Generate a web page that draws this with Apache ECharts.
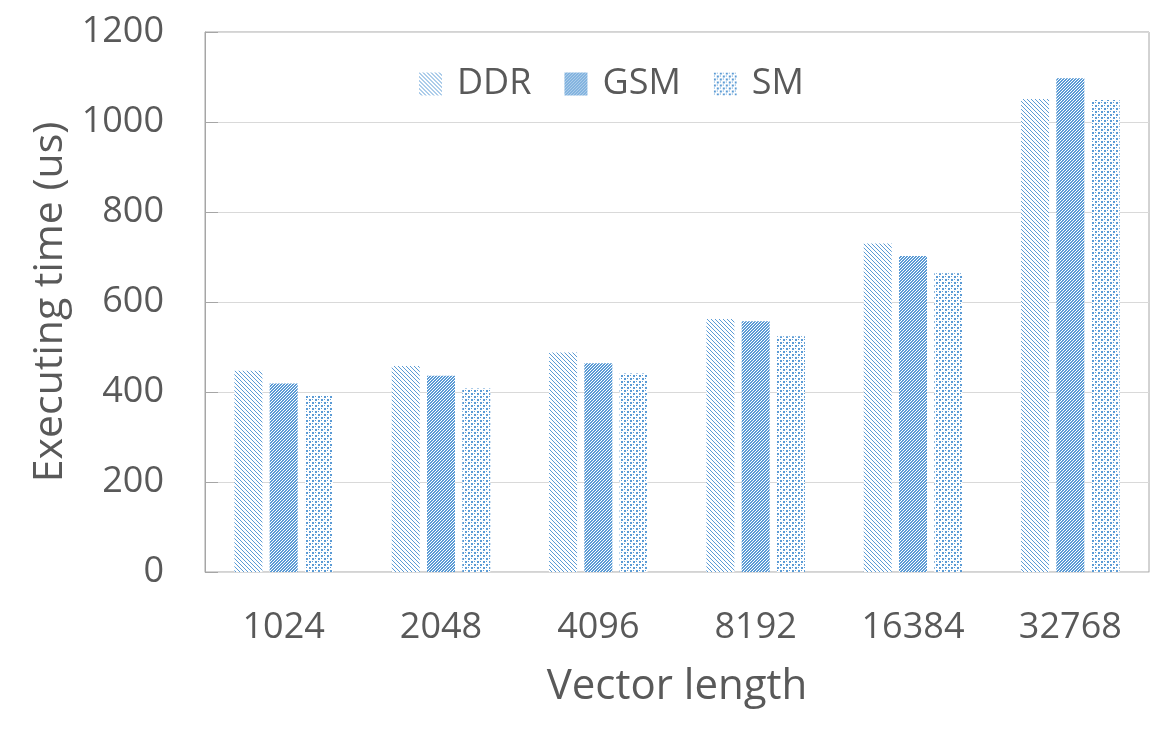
<!DOCTYPE html>
<html>
<head>
<meta charset="utf-8">
<script src="https://cdn.jsdelivr.net/npm/echarts@6/dist/echarts.min.js"></script>
<style>html,body{margin:0;padding:0;background:#fff;}#c{width:1164px;height:731px;}</style>
</head>
<body>
<div id="c"></div>
<script>
const categories = ['1024', '2048', '4096', '8192', '16384', '32768'];
const seriesNames = ['DDR', 'GSM', 'SM'];
const ddrValues = [447, 458, 488, 562, 730, 1051];
const gsmValues = [419, 436, 464, 557, 702, 1097];
const smValues = [393, 408, 441, 524, 664, 1049];

const BLUE = '#5B9BD5';
function makeTile(size, cells) {
  const c = document.createElement('canvas');
  c.width = size; c.height = size;
  const ctx = c.getContext('2d');
  ctx.fillStyle = '#ffffff';
  ctx.fillRect(0, 0, size, size);
  ctx.fillStyle = BLUE;
  cells.forEach(p => ctx.fillRect(p[0], p[1], p[2] || 1, p[3] || 1));
  return c;
}
// diagonal "\" lines
const ddrTile = makeTile(4, [[0,0],[1,1],[2,2],[3,3]]);
// dense dotted: blue with scattered white pixels (period 3)
const gsmCells = [];
for (let y = 0; y < 3; y++) for (let x = 0; x < 3; x++) {
  if (!((x === 0 && y === 0) || (x === 2 && y === 1) || (x === 1 && y === 2))) gsmCells.push([x, y]);
}
const gsmTile = makeTile(3, gsmCells);
// confetti squares
const smTile = makeTile(6, [[0,0,2,2],[3,3,2,2],[3,0,1,1],[0,3,1,1]]);

const pat = t => ({ image: t, repeat: 'repeat' });
const FONT = '"Open Sans", "Noto Sans", sans-serif';
const TXT = '#595959';

const chart = echarts.init(document.getElementById('c'), null, { renderer: 'canvas' });
chart.setOption({
  animation: false,
  backgroundColor: '#ffffff',
  textStyle: { fontFamily: FONT },
  grid: { left: 205, top: 32, right: 15, bottom: 159, show: true, borderColor: '#a6a6a6', borderWidth: 1, containLabel: false },
  legend: {
    left: 414, top: 61,
    itemWidth: 23, itemHeight: 23, itemGap: 33,
    icon: 'rect',
    textStyle: { fontSize: 36, color: TXT, fontFamily: FONT, padding: [0, 0, 0, 10] },
    data: seriesNames
  },
  xAxis: {
    type: 'category',
    data: categories,
    name: 'Vector length',
    nameLocation: 'middle',
    nameGap: 94,
    nameTextStyle: { fontSize: 42, color: TXT, fontFamily: FONT },
    axisLine: { lineStyle: { color: '#d9d9d9', width: 1 } },
    axisTick: { inside: true, length: 14, lineStyle: { color: '#d9d9d9' } },
    axisLabel: { fontSize: 36, color: TXT, margin: 38, fontFamily: FONT }
  },
  yAxis: {
    type: 'value',
    min: 0, max: 1200, interval: 200,
    name: 'Executing time (us)',
    nameLocation: 'middle',
    nameGap: 124,
    nameTextStyle: { fontSize: 41, color: TXT, fontFamily: FONT },
    axisLine: { show: true, lineStyle: { color: '#a6a6a6', width: 1 } },
    axisTick: { show: true, inside: true, length: 13, lineStyle: { color: '#a6a6a6' } },
    axisLabel: { fontSize: 36, color: TXT, margin: 41, fontFamily: FONT, formatter: v => String(v) },
    splitLine: { lineStyle: { color: '#d9d9d9', width: 1 } }
  },
  series: [
    { name: seriesNames[0], type: 'bar', data: ddrValues, barWidth: 28, barGap: '26%', itemStyle: { color: pat(ddrTile) } },
    { name: seriesNames[1], type: 'bar', data: gsmValues, barWidth: 28, barGap: '26%', itemStyle: { color: pat(gsmTile) } },
    { name: seriesNames[2], type: 'bar', data: smValues, barWidth: 28, barGap: '26%', itemStyle: { color: pat(smTile) } }
  ]
});
</script>
</body>
</html>
